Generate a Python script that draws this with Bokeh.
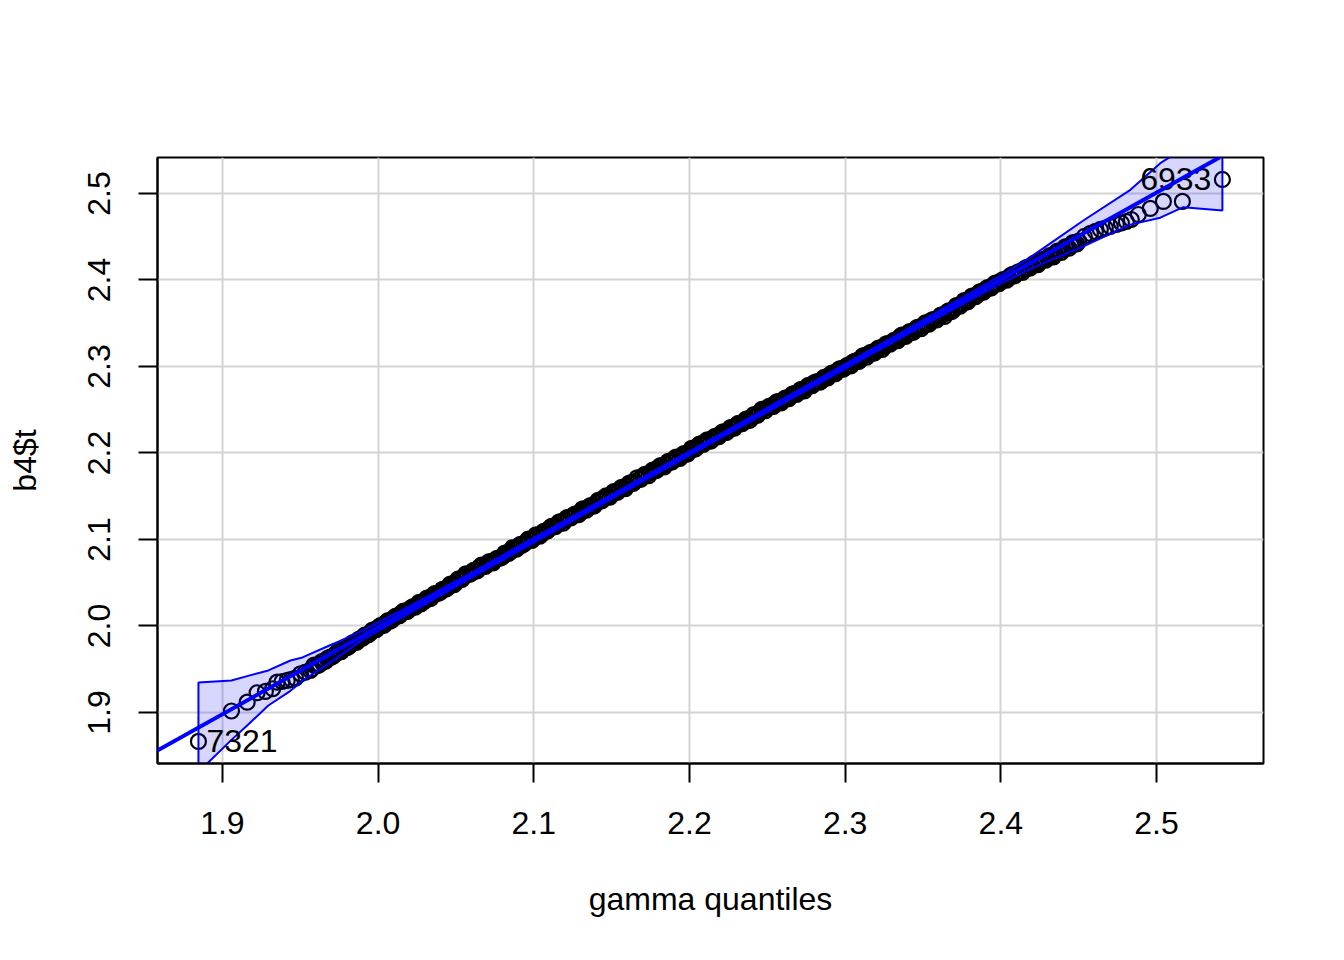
from bokeh.plotting import figure
from bokeh.models import Range1d, FixedTicker, Slope, ColumnDataSource, PrintfTickFormatter
from bokeh.core.properties import value
from bokeh.embed import file_html
from bokeh.resources import INLINE

FONT = "Liberation Sans"

# ---- axes ----
x_ticks = [1.9, 2.0, 2.1, 2.2, 2.3, 2.4, 2.5]
y_ticks = [1.9, 2.0, 2.1, 2.2, 2.3, 2.4, 2.5]
x_limits = [1.8583, 2.5687]
y_limits = [1.8410, 2.5416]
x_title = "gamma quantiles"
y_title = "b4$t"

# ---- sample points (theoretical quantile, observed value) ----
lower_tail_x = [1.8846, 1.9058, 1.9159, 1.9223, 1.9276, 1.9323, 1.9351, 1.9383, 1.9416, 1.9443,
                1.9469, 1.9501, 1.9533, 1.9565]
lower_tail_y = [1.8665, 1.9017, 1.9119, 1.9228, 1.9243, 1.9274, 1.9350, 1.9358, 1.9370, 1.9382,
                1.9397, 1.9447, 1.9466, 1.9486]

body_x = [
    1.9575, 1.9600, 1.9625, 1.9650, 1.9675, 1.9700, 1.9725, 1.9750, 1.9775, 1.9800,
    1.9825, 1.9850, 1.9875, 1.9900,
    1.9925, 1.9950, 1.9975, 2.0000, 2.0025, 2.0050, 2.0075, 2.0100, 2.0125, 2.0150,
    2.0175, 2.0200, 2.0225, 2.0250, 2.0275, 2.0300, 2.0325, 2.0350, 2.0375, 2.0400,
    2.0425, 2.0450, 2.0475, 2.0500,
    2.0525, 2.0550, 2.0575, 2.0600, 2.0625, 2.0650, 2.0675, 2.0700, 2.0725, 2.0750,
    2.0775, 2.0800, 2.0825, 2.0850, 2.0875, 2.0900, 2.0925, 2.0950, 2.0975, 2.1000,
    2.1025, 2.1050, 2.1075, 2.1100, 2.1125, 2.1150, 2.1175, 2.1200, 2.1225, 2.1250,
    2.1275, 2.1300, 2.1325, 2.1350, 2.1375, 2.1400, 2.1425, 2.1450, 2.1475, 2.1500,
    2.1525, 2.1550, 2.1575, 2.1600, 2.1625, 2.1650, 2.1675, 2.1700, 2.1725, 2.1750,
    2.1775, 2.1800, 2.1825, 2.1850, 2.1875, 2.1900, 2.1925, 2.1950, 2.1975, 2.2000,
    2.2025, 2.2050, 2.2075, 2.2100, 2.2125, 2.2150, 2.2175, 2.2200, 2.2225, 2.2250,
    2.2275, 2.2300, 2.2325, 2.2350, 2.2375, 2.2400, 2.2425, 2.2450, 2.2475, 2.2500,
    2.2525, 2.2550, 2.2575, 2.2600, 2.2625, 2.2650, 2.2675, 2.2700, 2.2725, 2.2750,
    2.2775, 2.2800, 2.2825, 2.2850, 2.2875, 2.2900, 2.2925, 2.2950, 2.2975, 2.3000,
    2.3025, 2.3050, 2.3075, 2.3100, 2.3125, 2.3150, 2.3175, 2.3200, 2.3225, 2.3250,
    2.3275, 2.3300, 2.3325, 2.3350, 2.3375, 2.3400, 2.3425, 2.3450, 2.3475, 2.3500,
    2.3525, 2.3550, 2.3575, 2.3600, 2.3625, 2.3650, 2.3675, 2.3700, 2.3725, 2.3750,
    2.3775, 2.3800, 2.3825, 2.3850, 2.3875, 2.3900, 2.3925, 2.3950, 2.3975, 2.4000,
    2.4025, 2.4050, 2.4075, 2.4100, 2.4125, 2.4150, 2.4175, 2.4200, 2.4225, 2.4250,
    2.4275, 2.4300, 2.4325, 2.4350, 2.4375, 2.4400, 2.4425, 2.4450, 2.4475, 2.4500,
]
body_y = [
    1.9505, 1.9540, 1.9555, 1.9590, 1.9625, 1.9640, 1.9675, 1.9700, 1.9735, 1.9750,
    1.9785, 1.9810, 1.9845, 1.9860,
    1.9895, 1.9920, 1.9955, 1.9980, 2.0005, 2.0040, 2.0055, 2.0090, 2.0115, 2.0150,
    2.0165, 2.0190, 2.0225, 2.0240, 2.0255, 2.0290, 2.0315, 2.0350, 2.0375, 2.0390,
    2.0425, 2.0450, 2.0485, 2.0500,
    2.0535, 2.0570, 2.0595, 2.0610, 2.0645, 2.0680, 2.0695, 2.0720, 2.0735, 2.0760,
    2.0785, 2.0800, 2.0835, 2.0860, 2.0895, 2.0910, 2.0935, 2.0970, 2.0995, 2.1020,
    2.1045, 2.1060, 2.1095, 2.1130, 2.1145, 2.1170, 2.1205, 2.1220, 2.1255, 2.1270,
    2.1295, 2.1310, 2.1345, 2.1370, 2.1385, 2.1420, 2.1445, 2.1480, 2.1495, 2.1520,
    2.1545, 2.1580, 2.1595, 2.1620, 2.1655, 2.1670, 2.1695, 2.1730, 2.1755, 2.1770,
    2.1795, 2.1830, 2.1845, 2.1870, 2.1895, 2.1930, 2.1945, 2.1970, 2.1985, 2.2020,
    2.2045, 2.2070, 2.2105, 2.2130, 2.2145, 2.2170, 2.2185, 2.2220, 2.2235, 2.2260,
    2.2295, 2.2320, 2.2335, 2.2360, 2.2395, 2.2410, 2.2435, 2.2470, 2.2505, 2.2520,
    2.2535, 2.2570, 2.2585, 2.2610, 2.2625, 2.2660, 2.2685, 2.2700, 2.2735, 2.2750,
    2.2775, 2.2810, 2.2825, 2.2840, 2.2875, 2.2900, 2.2915, 2.2950, 2.2975, 2.2990,
    2.3015, 2.3050, 2.3065, 2.3090, 2.3125, 2.3140, 2.3155, 2.3190, 2.3215, 2.3230,
    2.3265, 2.3280, 2.3305, 2.3340, 2.3355, 2.3380, 2.3395, 2.3430, 2.3455, 2.3470,
    2.3495, 2.3530, 2.3545, 2.3560, 2.3595, 2.3620, 2.3635, 2.3670, 2.3705, 2.3720,
    2.3755, 2.3780, 2.3815, 2.3830, 2.3865, 2.3890, 2.3905, 2.3940, 2.3955, 2.3990,
    2.4005, 2.4030, 2.4065, 2.4080, 2.4095, 2.4130, 2.4145, 2.4170, 2.4185, 2.4220,
    2.4235, 2.4260, 2.4275, 2.4310, 2.4335, 2.4350, 2.4385, 2.4400, 2.4425, 2.4450,
]

body2_x = [
    1.9588, 1.9613, 1.9638, 1.9663, 1.9688, 1.9713, 1.9738, 1.9763, 1.9788, 1.9813,
    1.9838, 1.9863, 1.9888,
    1.9913, 1.9938, 1.9963, 1.9988, 2.0013, 2.0038, 2.0063, 2.0088, 2.0113, 2.0138,
    2.0163, 2.0188, 2.0213, 2.0238, 2.0263, 2.0288, 2.0313, 2.0338, 2.0363, 2.0388,
    2.0413, 2.0438, 2.0463, 2.0488,
    2.0513, 2.0538, 2.0563, 2.0588, 2.0613, 2.0638, 2.0663, 2.0688, 2.0713, 2.0738,
    2.0763, 2.0788, 2.0813, 2.0838, 2.0863, 2.0888, 2.0913, 2.0938, 2.0963, 2.0988,
    2.1013, 2.1038, 2.1063, 2.1088, 2.1113, 2.1138, 2.1163, 2.1188, 2.1213, 2.1238,
    2.1263, 2.1288, 2.1313, 2.1338, 2.1363, 2.1388, 2.1413, 2.1438, 2.1463, 2.1488,
    2.1513, 2.1538, 2.1563, 2.1588, 2.1613, 2.1638, 2.1663, 2.1688, 2.1713, 2.1738,
    2.1763, 2.1788, 2.1813, 2.1838, 2.1863, 2.1888, 2.1913, 2.1938, 2.1963, 2.1988,
    2.2013, 2.2038, 2.2063, 2.2088, 2.2113, 2.2138, 2.2163, 2.2188, 2.2213, 2.2238,
    2.2263, 2.2288, 2.2313, 2.2338, 2.2363, 2.2388, 2.2413, 2.2438, 2.2463, 2.2488,
    2.2513, 2.2538, 2.2563, 2.2588, 2.2613, 2.2638, 2.2663, 2.2688, 2.2713, 2.2738,
    2.2763, 2.2788, 2.2813, 2.2838, 2.2863, 2.2888, 2.2913, 2.2938, 2.2963, 2.2988,
    2.3013, 2.3038, 2.3063, 2.3088, 2.3113, 2.3138, 2.3163, 2.3188, 2.3213, 2.3238,
    2.3263, 2.3288, 2.3313, 2.3338, 2.3363, 2.3388, 2.3413, 2.3438, 2.3463, 2.3488,
    2.3513, 2.3538, 2.3563, 2.3588, 2.3613, 2.3638, 2.3663, 2.3688, 2.3713, 2.3738,
    2.3763, 2.3788, 2.3813, 2.3838, 2.3863, 2.3888, 2.3913, 2.3938, 2.3963, 2.3988,
    2.4013, 2.4038, 2.4063, 2.4088, 2.4113, 2.4138, 2.4163, 2.4188, 2.4213, 2.4238,
    2.4263, 2.4288, 2.4313, 2.4338, 2.4363, 2.4388, 2.4413, 2.4438, 2.4463, 2.4488,
]
body2_y = [
    1.9548, 1.9543, 1.9588, 1.9593, 1.9638, 1.9653, 1.9698, 1.9703, 1.9748, 1.9763,
    1.9808, 1.9813, 1.9858,
    1.9893, 1.9898, 1.9953, 1.9958, 2.0003, 2.0008, 2.0063, 2.0068, 2.0113, 2.0118,
    2.0173, 2.0168, 2.0213, 2.0218, 2.0273, 2.0278, 2.0323, 2.0318, 2.0373, 2.0378,
    2.0423, 2.0428, 2.0483, 2.0478,
    2.0543, 2.0538, 2.0603, 2.0598, 2.0643, 2.0638, 2.0703, 2.0688, 2.0743, 2.0728,
    2.0783, 2.0788, 2.0843, 2.0838, 2.0903, 2.0888, 2.0943, 2.0948, 2.1003, 2.0988,
    2.1053, 2.1038, 2.1093, 2.1098, 2.1153, 2.1148, 2.1203, 2.1188, 2.1253, 2.1248,
    2.1293, 2.1288, 2.1353, 2.1338, 2.1393, 2.1388, 2.1453, 2.1448, 2.1503, 2.1488,
    2.1553, 2.1548, 2.1603, 2.1588, 2.1653, 2.1648, 2.1713, 2.1698, 2.1753, 2.1738,
    2.1803, 2.1798, 2.1853, 2.1838, 2.1903, 2.1898, 2.1953, 2.1938, 2.1993, 2.1988,
    2.2053, 2.2048, 2.2103, 2.2098, 2.2153, 2.2138, 2.2193, 2.2188, 2.2243, 2.2238,
    2.2293, 2.2288, 2.2343, 2.2338, 2.2393, 2.2378, 2.2443, 2.2438, 2.2503, 2.2488,
    2.2543, 2.2538, 2.2593, 2.2578, 2.2633, 2.2628, 2.2683, 2.2678, 2.2733, 2.2718,
    2.2783, 2.2778, 2.2823, 2.2818, 2.2873, 2.2868, 2.2923, 2.2918, 2.2973, 2.2968,
    2.3013, 2.3008, 2.3063, 2.3058, 2.3123, 2.3108, 2.3163, 2.3158, 2.3213, 2.3198,
    2.3263, 2.3258, 2.3303, 2.3298, 2.3363, 2.3348, 2.3403, 2.3398, 2.3453, 2.3438,
    2.3503, 2.3488, 2.3543, 2.3538, 2.3593, 2.3578, 2.3643, 2.3638, 2.3703, 2.3698,
    2.3763, 2.3748, 2.3813, 2.3808, 2.3863, 2.3858, 2.3913, 2.3908, 2.3963, 2.3958,
    2.4003, 2.3998, 2.4053, 2.4048, 2.4093, 2.4088, 2.4143, 2.4138, 2.4193, 2.4178,
    2.4233, 2.4228, 2.4283, 2.4268, 2.4333, 2.4318, 2.4383, 2.4368, 2.4433, 2.4418,
]

upper_tail_x = [2.4536, 2.4575, 2.4607, 2.4639, 2.4671, 2.4703, 2.4742, 2.4774, 2.4806, 2.4838,
                2.4883, 2.4960, 2.5044, 2.5166, 2.5423]
upper_tail_y = [2.4503, 2.4538, 2.4561, 2.4584, 2.4601, 2.4618, 2.4642, 2.4659, 2.4676, 2.4699,
                2.4757, 2.4827, 2.4908, 2.4908, 2.5162]

# ---- reference line ----
line_slope = 1.005
line_intercept = -0.0115

# ---- pointwise confidence envelope ----
env_x = [1.8846, 1.9058, 1.9159, 1.9295, 1.9437, 1.9514, 1.9713, 1.9886, 2.0200, 2.0600,
         2.1500, 2.2500, 2.3300, 2.3800, 2.4000, 2.4190, 2.4318, 2.4530, 2.4832, 2.5024,
         2.5172, 2.5423]
env_upper = [1.9347, 1.9370, 1.9420, 1.9486, 1.9601, 1.9636, 1.9794, 1.9935, 2.0226, 2.0618,
             2.1518, 2.2523, 2.3332, 2.3844, 2.4051, 2.4264, 2.4423, 2.4688, 2.5042, 2.5350,
             2.5520, 2.6067]
env_lower = [1.8311, 1.8683, 1.8850, 1.9081, 1.9250, 1.9365, 1.9600, 1.9825, 2.0146, 2.0558,
             2.1468, 2.2473, 2.3272, 2.3764, 2.3959, 2.4126, 2.4227, 2.4388, 2.4640, 2.4720,
             2.4842, 2.4803]

# ---- identified points ----
label_x = [1.8846, 2.5423]
label_y = [1.8665, 2.5162]
label_text = ["7321", "6933"]
label_side = ["right", "left"]

pts_x = lower_tail_x + body_x + body2_x + upper_tail_x
pts_y = lower_tail_y + body_y + body2_y + upper_tail_y

p = figure(width=1336, height=952, output_backend="svg", toolbar_location=None,
           x_range=Range1d(*x_limits), y_range=Range1d(*y_limits),
           min_border_left=157, min_border_right=73, min_border_top=157, min_border_bottom=189,
           x_axis_label=x_title, y_axis_label=y_title)
p.background_fill_color = "white"
p.border_fill_color = "white"
p.outline_line_color = "black"
p.outline_line_width = 2

for ax, ticks in ((p.xaxis[0], x_ticks), (p.yaxis[0], y_ticks)):
    ax.ticker = FixedTicker(ticks=ticks)
    ax.formatter = PrintfTickFormatter(format="%.1f")
    ax.axis_line_color = "black"
    ax.axis_line_width = 2
    ax.major_tick_line_color = "black"
    ax.major_tick_line_width = 2
    ax.major_tick_out = 19
    ax.major_tick_in = 0
    ax.minor_tick_line_color = None
    ax.major_label_text_font = FONT
    ax.major_label_text_font_size = "32px"
    ax.major_label_text_color = "black"
    ax.axis_label_text_font = FONT
    ax.axis_label_text_font_size = "32px"
    ax.axis_label_text_font_style = "normal"
    ax.axis_label_text_color = "black"

p.xaxis[0].major_label_standoff = 29
p.xaxis[0].axis_label_standoff = 44
p.yaxis[0].major_label_orientation = "vertical"
p.yaxis[0].major_label_standoff = 28
p.yaxis[0].axis_label_standoff = 43

p.xgrid[0].ticker = FixedTicker(ticks=x_ticks)
p.ygrid[0].ticker = FixedTicker(ticks=y_ticks)
for g in (p.xgrid[0], p.ygrid[0]):
    g.grid_line_color = "#D3D3D3"
    g.grid_line_width = 2

# points
p.scatter(pts_x, pts_y, marker="circle", size=15, fill_color=None,
          line_color="black", line_width=2.2)

# reference line
p.add_layout(Slope(gradient=line_slope, y_intercept=line_intercept,
                   line_color="blue", line_width=4))

# envelope
poly_x = env_x + env_x[::-1]
poly_y = env_upper + env_lower[::-1]
p.patch(poly_x, poly_y, fill_color="blue", fill_alpha=0.16,
        line_color="blue", line_width=2)

# labels
right_idx = [i for i, s in enumerate(label_side) if s == "right"]
left_idx = [i for i, s in enumerate(label_side) if s == "left"]
src_r = ColumnDataSource(dict(x=[label_x[i] for i in right_idx], y=[label_y[i] for i in right_idx],
                              t=[label_text[i] for i in right_idx]))
src_l = ColumnDataSource(dict(x=[label_x[i] for i in left_idx], y=[label_y[i] for i in left_idx],
                              t=[label_text[i] for i in left_idx]))
p.text(x="x", y="y", text="t", source=src_r, text_font=value(FONT), text_font_size="32px",
       text_align="left", text_baseline="middle", x_offset=8, text_color="black")
p.text(x="x", y="y", text="t", source=src_l, text_font=value(FONT), text_font_size="32px",
       text_align="right", text_baseline="middle", x_offset=-11, text_color="black")

open("out.html", "w").write(file_html(p, INLINE))
